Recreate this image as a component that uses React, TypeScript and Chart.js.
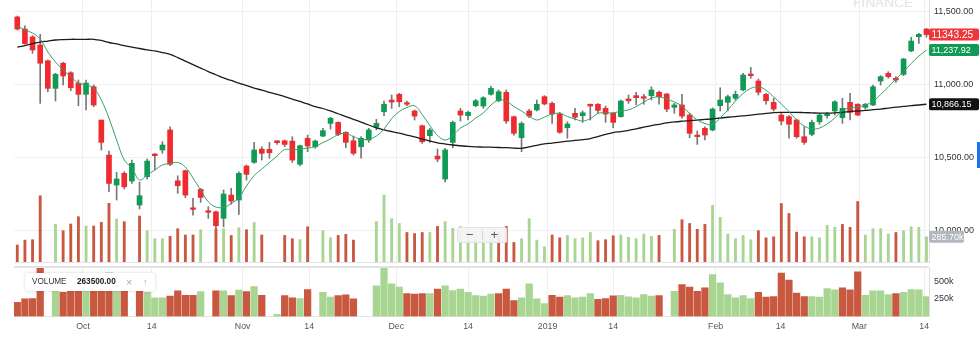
import React, { useEffect, useRef } from 'react';
import { Chart, registerables } from 'chart.js';

Chart.register(...registerables);

// ---- data (one entry per trading-day slot, left to right) ----
const OPEN = [
  11464, 11381, 11327, 11272, 11164, 10975, 11147, 11082, 11011, 10934,
  10986, 10758, 10518, 10313, 10393, 10340, 10176, 10370, 10525, 10553,
  10690, 10342, 10411, 10157, 10283, 10137, 10130, 10085, 10244, 10210,
  10443, 10468, 10559, 10557, 10616, 10616, 10614, 10455, 10633, 10575,
  10648, 10735, 10742, 10674, 10616, 10575, 10621, 10708, 10815, 10895,
  10934, 10877, 10820, 10719, 10651, 10511, 10354, 10605, 10820, 10788,
  10856, 10854, 10934, 10890, 10948, 10781, 10637, 10820, 10827, 10918,
  10872, 10799, 10705, 10804, 10788, 10866, 10866, 10838, 10804, 10781,
  10902, 10925, 10918, 10925, 10948, 10936, 10845, 10861, 10792, 10655,
  10701, 10690, 10856, 10879, 10907, 10964, 11073, 11025, 10934, 10879,
  10792, 10781, 10758, 10644, 10660, 10746, 10788, 10820, 10774, 10879,
  10866, 10845, 10861, 11025, 11078, 11044, 11071, 11231, 11329, 11381,
];
const HIGH = [
  11470, 11404, 11336, 11345, 11169, 11078, 11153, 11089, 11032, 11032,
  10998, 10758, 10546, 10400, 10404, 10484, 10333, 10491, 10529, 10610,
  10712, 10376, 10416, 10222, 10290, 10164, 10135, 10279, 10290, 10404,
  10450, 10605, 10575, 10605, 10616, 10621, 10644, 10587, 10655, 10621,
  10701, 10777, 10746, 10678, 10648, 10644, 10701, 10763, 10888, 10929,
  10941, 10888, 10827, 10724, 10701, 10559, 10564, 10751, 10838, 10820,
  10900, 10918, 10991, 10964, 10964, 10785, 10746, 10831, 10895, 10925,
  10883, 10811, 10746, 10838, 10820, 10868, 10870, 10854, 10811, 10895,
  10929, 10948, 10934, 10986, 10957, 10941, 10872, 10934, 10804, 10683,
  10712, 10842, 10979, 10929, 10957, 11078, 11119, 11039, 10941, 10907,
  10804, 10788, 10765, 10712, 10758, 10804, 10811, 10890, 10907, 10941,
  10870, 10872, 10998, 11062, 11089, 11055, 11181, 11325, 11352, 11386,
];
const LOW = [
  11374, 11277, 11215, 10872, 10952, 10888, 10998, 10959, 10856, 10827,
  10849, 10553, 10267, 10210, 10286, 10324, 10149, 10354, 10416, 10530,
  10445, 10256, 10226, 10107, 10194, 10084, 10016, 10027, 10181, 10112,
  10347, 10461, 10484, 10496, 10591, 10575, 10468, 10445, 10541, 10564,
  10644, 10696, 10651, 10568, 10518, 10496, 10605, 10690, 10788, 10838,
  10849, 10856, 10758, 10598, 10605, 10472, 10335, 10568, 10751, 10758,
  10849, 10838, 10929, 10883, 10735, 10655, 10541, 10774, 10820, 10861,
  10735, 10667, 10633, 10758, 10742, 10758, 10804, 10742, 10705, 10777,
  10872, 10861, 10866, 10895, 10866, 10815, 10804, 10770, 10637, 10591,
  10621, 10683, 10820, 10820, 10895, 10957, 11044, 10929, 10866, 10820,
  10724, 10633, 10633, 10591, 10651, 10729, 10770, 10792, 10735, 10758,
  10788, 10833, 10856, 10998, 11044, 11016, 11062, 11226, 11283, 11325,
];
const CLOSE = [
  11381, 11281, 11238, 11147, 10975, 11071, 11060, 10979, 10934, 11011,
  10861, 10605, 10324, 10354, 10301, 10461, 10240, 10477, 10514, 10587,
  10455, 10308, 10244, 10146, 10228, 10126, 10034, 10251, 10203, 10393,
  10386, 10553, 10530, 10534, 10603, 10591, 10484, 10582, 10580, 10614,
  10685, 10770, 10660, 10605, 10530, 10633, 10690, 10735, 10866, 10881,
  10883, 10866, 10785, 10609, 10690, 10491, 10553, 10742, 10792, 10811,
  10890, 10911, 10975, 10952, 10751, 10667, 10735, 10785, 10866, 10868,
  10799, 10674, 10731, 10777, 10808, 10854, 10824, 10799, 10742, 10888,
  10890, 10911, 10907, 10964, 10918, 10833, 10861, 10785, 10667, 10644,
  10655, 10833, 10895, 10918, 10934, 11066, 11062, 10948, 10890, 10833,
  10751, 10729, 10644, 10605, 10742, 10792, 10799, 10883, 10838, 10811,
  10792, 10866, 10986, 11055, 11055, 11032, 11176, 11299, 11345, 11343.25,
];
const SMA_FAST = [
  11402, 11375, 11354, 11313, 11224, 11155, 11101, 11055, 11011, 10998,
  10977, 10895, 10772, 10621, 10484, 10429, 10347, 10381, 10416, 10450,
  10460, 10467, 10436, 10361, 10279, 10198, 10162, 10160, 10186, 10227,
  10306, 10378, 10422, 10467, 10511, 10556, 10553, 10559, 10566, 10576,
  10604, 10628, 10659, 10666, 10645, 10624, 10628, 10648, 10696, 10768,
  10816, 10844, 10856, 10796, 10720, 10652, 10621, 10652, 10703, 10731,
  10772, 10806, 10861, 10895, 10888, 10850, 10820, 10785, 10758, 10779,
  10799, 10804, 10782, 10765, 10751, 10768, 10803, 10809, 10806, 10820,
  10827, 10850, 10881, 10909, 10916, 10902, 10881, 10854, 10803, 10758,
  10734, 10727, 10772, 10827, 10888, 10940, 10975, 10986, 10963, 10916,
  10868, 10816, 10758, 10717, 10696, 10703, 10731, 10772, 10823, 10842,
  10847, 10861, 10885, 10933, 10984, 11039, 11090, 11145, 11196, 11237.92,
];
const SMA_SLOW = [
  11258, 11268, 11282, 11292, 11299, 11306, 11309, 11311, 11311, 11311,
  11311, 11303, 11289, 11279, 11268, 11258, 11248, 11239, 11231, 11220,
  11207, 11186, 11162, 11138, 11114, 11090, 11068, 11046, 11029, 11011,
  10994, 10977, 10963, 10948, 10933, 10918, 10902, 10885, 10868, 10850,
  10837, 10820, 10801, 10782, 10763, 10744, 10724, 10705, 10691, 10679,
  10668, 10655, 10642, 10628, 10614, 10602, 10594, 10587, 10582, 10577,
  10574, 10573, 10572, 10570, 10569, 10566, 10564, 10574, 10585, 10594,
  10600, 10607, 10613, 10618, 10624, 10631, 10645, 10660, 10672, 10679,
  10687, 10698, 10709, 10720, 10729, 10738, 10745, 10750, 10754, 10758,
  10762, 10766, 10772, 10777, 10782, 10787, 10792, 10798, 10803, 10809,
  10811, 10811, 10811, 10809, 10807, 10805, 10805, 10807, 10811, 10816,
  10820, 10824, 10829, 10833, 10840, 10846, 10851, 10857, 10861, 10866.15,
];
const VOLUME = [
  204000, 253000, 257000, 696000, null, 411000, 347000, 414000, 487000, 394000,
  394000, 431000, 621000, 464000, 437000, null, 494000, 347000, 267000, 267000,
  290000, 367000, 304000, 304000, 357000, null, 367000, 367000, 300000, 376000,
  357000, 429000, 304000, null, 30000, 300000, 267000, 257000, 386000, null,
  347000, 276000, 300000, 310000, 253000, null, null, 438000, 704000, 467000,
  419000, 329000, 319000, 329000, 329000, 390000, 438000, 371000, 390000, 347000,
  300000, 290000, 319000, 329000, 390000, 229000, 267000, 467000, 253000, 186000,
  304000, 276000, 300000, 267000, 276000, 329000, 247000, 257000, 296000, 304000,
  281000, 267000, 314000, 290000, 300000, null, 361000, 457000, 419000, 361000,
  410000, 600000, 481000, 314000, 267000, 300000, 257000, 347000, 276000, 286000,
  619000, 519000, 333000, 286000, 286000, 276000, 400000, 381000, 410000, 381000,
  639000, 304000, 367000, 367000, 314000, 329000, 347000, 386000, 381000, 285700,
];
// G = up volume bar, R = down volume bar, - = no bar
const VOLUME_DIR = (
  'RRRR-GRRRG' + 'RRRGR-RGGG' + 'RRRRG-RGRG' + 'RGR-GRRGR-' +
  'GGRRR--GGG' + 'GRRRGRGGGG' + 'GGGRRRGGGG' + 'RRGGGGRRRG' +
  'GGGGR-GRRR' + 'RGGGGGGRRR' + 'RRRRGGGGRR' + 'RGGGGRGGGG'
).split('');

const TICK_POS = [9.6, 18.6, 30.5, 39.2, 50.6, 60.0, 70.4, 79.0, 92.4, 100.9, 111.2, 119.7];
const TICK_LABELS = ['Oct', '14', 'Nov', '14', 'Dec', '14', '2019', '14', 'Feb', '14', 'Mar', '14'];
const PRICE_TICKS = [10000, 10500, 11000, 11500];
const VOLUME_TICKS = [250000, 500000];
const LEGEND_NAME = 'VOLUME';
const LEGEND_VALUE = '263500.00';
const WATERMARK = 'FINANCE';

// ---- layout / style ----
const X_MIN = 0.57;
const X_MAX = 120.33;
const PRICE_MIN = 9785.7;
const PRICE_MAX = 11580.1;
const VOL_OVERLAY_MIN = 34000;
const VOL_OVERLAY_MAX = 2654000;
const VOL_MAX = 692857;

const RED = '#ef2b30';
const GREEN = '#0f9b55';
const WICK = '#767676';
const VRED = '#c8583f';
const VGREEN = '#a9d593';
const FONT = '"Liberation Sans", Arial, Helvetica, sans-serif';

const fmt2 = (v: number) =>
  v.toLocaleString('en-US', { minimumFractionDigits: 2, maximumFractionDigits: 2 });

function drawTag(ctx: any, x: number, y: number, w: number, h: number, bg: string, fg: string, text: string, size: number) {
  ctx.save();
  ctx.fillStyle = bg;
  ctx.beginPath();
  if (ctx.roundRect) ctx.roundRect(x, y - h / 2, w, h, 2);
  else ctx.rect(x, y - h / 2, w, h);
  ctx.fill();
  ctx.fillStyle = fg;
  ctx.font = `${size}px ${FONT}`;
  ctx.textBaseline = 'middle';
  ctx.textAlign = 'left';
  ctx.fillText(text, x + 2.5, y + 0.5);
  ctx.restore();
}

function xScale(showLabels: boolean) {
  return {
    type: 'linear',
    min: X_MIN,
    max: X_MAX,
    offset: false,
    afterBuildTicks: (s: any) => {
      s.ticks = TICK_POS.map((v) => ({ value: v }));
    },
    ticks: {
      display: showLabels,
      autoSkip: false,
      maxRotation: 0,
      minRotation: 0,
      padding: 5,
      color: '#555',
      font: { family: FONT, size: 8.8 },
      callback: (_v: any, i: number) => TICK_LABELS[i],
    },
    grid: { color: '#eeeeee', drawTicks: false, offset: false, lineWidth: 1 },
    border: { display: true, color: '#e4e4e4' },
    afterFit: (s: any) => {
      s.height = showLabels ? 26.5 : 0;
      s.paddingLeft = 0;
      s.paddingRight = 0;
    },
  };
}

export default function App() {
  const mainRef = useRef<HTMLCanvasElement>(null);
  const volRef = useRef<HTMLCanvasElement>(null);

  useEffect(() => {
    const last = CLOSE.length - 1;
    const volPts: any[] = [];
    const volCols: string[] = [];
    VOLUME.forEach((v, i) => {
      if (v !== null) {
        volPts.push({ x: i + 1, y: v });
        volCols.push(VOLUME_DIR[i] === 'G' ? VGREEN : VRED);
      }
    });

    const tagPlugin = {
      id: 'tags',
      afterDraw(chart: any) {
        const { ctx, chartArea, scales } = chart;
        const x = chartArea.right;
        drawTag(ctx, x, scales.y.getPixelForValue(SMA_SLOW[last]), 50, 12, '#111111', '#ffffff', fmt2(SMA_SLOW[last]), 9);
        drawTag(ctx, x, scales.y.getPixelForValue(SMA_FAST[last]), 50, 12, '#109a56', '#ffffff', fmt2(SMA_FAST[last]), 9);
        drawTag(ctx, x, scales.y.getPixelForValue(CLOSE[last]), 50, 12, '#f0353b', '#ffffff', CLOSE[last].toFixed(2), 10.2);
        const lv = VOLUME[last] as number;
        drawTag(ctx, x, scales.yv.getPixelForValue(lv), 35, 12, '#b2b7c0', '#ffffff', (lv / 1000).toFixed(2) + 'k', 9);
      },
    };

    const main = new Chart(mainRef.current as any, {
      type: 'bar',
      data: {
        datasets: [
          {
            type: 'line',
            label: 'SMA fast',
            data: SMA_FAST.map((v, i) => ({ x: i + 1, y: v })),
            borderColor: '#3a9f67',
            borderWidth: 1,
            pointRadius: 0,
            tension: 0.35,
            yAxisID: 'y',
            order: 0,
          },
          {
            type: 'line',
            label: 'SMA slow',
            data: SMA_SLOW.map((v, i) => ({ x: i + 1, y: v })),
            borderColor: '#1c1c1c',
            borderWidth: 1.3,
            pointRadius: 0,
            tension: 0.35,
            yAxisID: 'y',
            order: 1,
          },
          {
            type: 'bar',
            label: 'body',
            data: OPEN.map((o, i) => ({ x: i + 1, y: [o, CLOSE[i]] })),
            backgroundColor: OPEN.map((o, i) => (CLOSE[i] >= o ? GREEN : RED)),
            barThickness: 5,
            minBarLength: 1.5,
            grouped: false,
            yAxisID: 'y',
            order: 2,
          },
          {
            type: 'bar',
            label: 'wick',
            data: LOW.map((l, i) => ({ x: i + 1, y: [l, HIGH[i]] })),
            backgroundColor: WICK,
            barThickness: 1,
            grouped: false,
            yAxisID: 'y',
            order: 3,
          },
          {
            type: 'bar',
            label: 'volume overlay',
            data: volPts,
            backgroundColor: volCols,
            barThickness: 2.2,
            grouped: false,
            yAxisID: 'yv',
            clip: 0,
            order: 4,
          },
        ] as any,
      },
      options: {
        responsive: false,
        animation: false,
        devicePixelRatio: 1,
        events: [],
        layout: { padding: { left: 14, top: 0, right: 0, bottom: 4 } },
        plugins: { legend: { display: false }, tooltip: { enabled: false } },
        scales: {
          x: xScale(false) as any,
          y: {
            type: 'linear',
            position: 'right',
            min: PRICE_MIN,
            max: PRICE_MAX,
            afterBuildTicks: (s: any) => {
              s.ticks = PRICE_TICKS.map((v) => ({ value: v }));
            },
            ticks: {
              padding: 5,
              color: '#333',
              font: { family: FONT, size: 9 },
              callback: (v: any) => fmt2(Number(v)),
            },
            grid: { color: '#f0f0f0', drawTicks: false },
            border: { display: true, color: '#dddddd' },
            afterFit: (s: any) => {
              s.width = 51;
              s.paddingTop = 0;
              s.paddingBottom = 0;
            },
          } as any,
          yv: { type: 'linear', display: false, min: VOL_OVERLAY_MIN, max: VOL_OVERLAY_MAX } as any,
        },
      },
      plugins: [tagPlugin],
    } as any);

    const bandPlugin = {
      id: 'band',
      afterDraw(chart: any) {
        const { ctx, chartArea } = chart;
        ctx.save();
        ctx.fillStyle = '#e3e3e3';
        ctx.fillRect(chartArea.left, 0, chartArea.right - chartArea.left, 2);
        ctx.restore();
      },
    };

    const vol = new Chart(volRef.current as any, {
      type: 'bar',
      data: {
        datasets: [
          {
            label: 'Volume',
            data: volPts,
            backgroundColor: volCols,
            barThickness: 6.6,
            grouped: false,
          },
        ] as any,
      },
      options: {
        responsive: false,
        animation: false,
        devicePixelRatio: 1,
        events: [],
        layout: { padding: { left: 14, top: 2, right: 0, bottom: 0 } },
        plugins: { legend: { display: false }, tooltip: { enabled: false } },
        scales: {
          x: xScale(true) as any,
          y: {
            type: 'linear',
            position: 'right',
            min: 0,
            max: VOL_MAX,
            afterBuildTicks: (s: any) => {
              s.ticks = VOLUME_TICKS.map((v) => ({ value: v }));
            },
            ticks: {
              padding: 5,
              color: '#333',
              font: { family: FONT, size: 9 },
              callback: (v: any) => Number(v) / 1000 + 'k',
            },
            grid: { display: false, drawTicks: false },
            border: { display: true, color: '#dddddd' },
            afterFit: (s: any) => {
              s.width = 51;
              s.paddingTop = 0;
              s.paddingBottom = 0;
            },
          } as any,
        },
      },
      plugins: [bandPlugin],
    } as any);

    return () => {
      main.destroy();
      vol.destroy();
    };
  }, []);

  return (
    <div
      style={{
        position: 'absolute',
        left: 0,
        top: 0,
        width: 980,
        height: 343,
        overflow: 'hidden',
        background: '#fff',
        fontFamily: FONT,
      }}
    >
      <div
        style={{
          position: 'absolute',
          left: 853,
          top: -4.3,
          fontSize: 13.7,
          lineHeight: '13.7px',
          color: '#e4e4e4',
          whiteSpace: 'nowrap',
        }}
      >
        {WATERMARK}
      </div>
      <canvas ref={mainRef} width={980} height={266} style={{ position: 'absolute', left: 0, top: 0 }} />
      <canvas ref={volRef} width={980} height={77} style={{ position: 'absolute', left: 0, top: 266 }} />
      <div
        style={{
          position: 'absolute',
          left: 457,
          top: 227,
          width: 50,
          height: 16,
          boxSizing: 'border-box',
          background: 'rgba(244,244,244,0.92)',
          border: '1px solid #e2e2e2',
          borderRadius: 2,
          display: 'flex',
          alignItems: 'stretch',
          color: '#555',
        }}
      >
        <span style={{ flex: 1, textAlign: 'center', fontSize: 13, lineHeight: '13px' }}>−</span>
        <span style={{ width: 1, background: '#d8d8d8', margin: '2px 0' }} />
        <span style={{ flex: 1, textAlign: 'center', fontSize: 13, lineHeight: '13px' }}>+</span>
      </div>
      <div
        style={{
          position: 'absolute',
          left: 25,
          top: 273,
          width: 130,
          height: 18,
          background: '#fff',
          borderRadius: 2,
          boxShadow: '0 0 3px rgba(0,0,0,0.18)',
          fontSize: 8.2,
          lineHeight: '18px',
          color: '#333',
          whiteSpace: 'nowrap',
        }}
      >
        <span style={{ position: 'absolute', left: 7 }}>{LEGEND_NAME}</span>
        <span style={{ position: 'absolute', left: 52, fontWeight: 'bold', color: '#222' }}>{LEGEND_VALUE}</span>
        <span style={{ position: 'absolute', left: 101, color: '#aaa', fontSize: 11 }}>×</span>
        <span style={{ position: 'absolute', left: 118, color: '#aaa', fontSize: 9 }}>↑</span>
      </div>
      <div style={{ position: 'absolute', left: 977, top: 142, width: 3, height: 26, background: '#1a73e8' }} />
    </div>
  );
}
